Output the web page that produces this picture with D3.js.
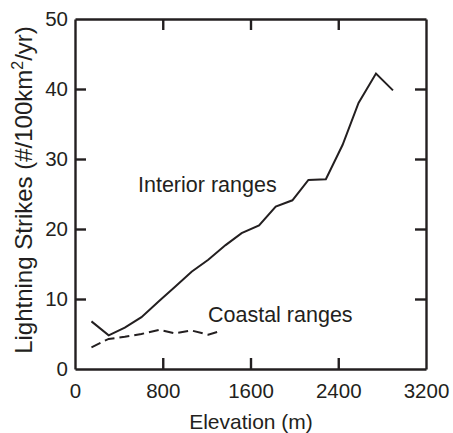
<!DOCTYPE html>
<html><head><meta charset="utf-8">
<script src="https://cdn.jsdelivr.net/npm/d3@7"></script>
<style>body{margin:0;background:#fff}svg{display:block}text{font-family:"Liberation Sans",Arial,sans-serif;fill:#231f20}</style>
</head><body><svg id="c" width="453" height="433"></svg>
<script>
const interiorElev = [150,307,454,606,767,910,1063,1215,1373,1519,1678,1830,1982,2128,2287,2439,2585,2744,2899];
const interiorStrikes = [6.8,4.8,5.9,7.4,9.7,11.7,13.9,15.6,17.7,19.4,20.5,23.2,24.1,27.0,27.1,32.0,38.0,42.2,39.8];
const coastalElev = [150,307,454,606,767,910,1063,1215,1322];
const coastalStrikes = [3.1,4.3,4.6,5.0,5.6,5.1,5.5,4.9,5.4];
const xTicks = [0,800,1600,2400,3200];
const yTicks = [0,10,20,30,40,50];

const svg = d3.select("#c");
const L=75, R=426, T=19, B=369;
const x = d3.scaleLinear().domain([0,3200]).range([L,R]);
const y = d3.scaleLinear().domain([0,50]).range([B,T]);
const col="#231f20";
const tl=11;
const fmt=d3.format("d");

function styleAxis(g, showLabels){
  g.selectAll(".domain").attr("stroke",col).attr("stroke-width",2.4);
  g.selectAll(".tick line").attr("stroke",col).attr("stroke-width",2.4);
  g.selectAll(".tick text").attr("font-size",20.5).attr("fill",col)
    .attr("font-family","'Liberation Sans',Arial,sans-serif");
  if(!showLabels) g.selectAll(".tick text").remove();
}
// bottom
svg.append("g").attr("transform",`translate(0,${B})`)
  .call(d3.axisBottom(x).tickValues(xTicks).tickFormat(fmt).tickSizeInner(-tl).tickSizeOuter(0).tickPadding(14))
  .call(g=>styleAxis(g,true))
  .call(g=>g.selectAll(".tick line").filter(d=>d===0||d===3200).remove());
// top
svg.append("g").attr("transform",`translate(0,${T})`)
  .call(d3.axisTop(x).tickValues(xTicks).tickSizeInner(-tl).tickSizeOuter(0))
  .call(g=>styleAxis(g,false))
  .call(g=>g.selectAll(".tick line").filter(d=>d===0||d===3200).remove());
// left
svg.append("g").attr("transform",`translate(${L},0)`)
  .call(d3.axisLeft(y).tickValues(yTicks).tickFormat(fmt).tickSizeInner(-tl).tickSizeOuter(0).tickPadding(7))
  .call(g=>styleAxis(g,true))
  .call(g=>g.selectAll(".tick line").filter(d=>d===0||d===50).remove());
// right
svg.append("g").attr("transform",`translate(${R},0)`)
  .call(d3.axisRight(y).tickValues(yTicks).tickSizeInner(-tl).tickSizeOuter(0))
  .call(g=>styleAxis(g,false))
  .call(g=>g.selectAll(".tick line").filter(d=>d===0||d===50).remove());

// titles
svg.append("text").attr("x",251).attr("y",429).attr("text-anchor","middle").attr("font-size",21).text("Elevation (m)");
const yt=svg.append("text").attr("transform","translate(32,190) rotate(-90)").attr("text-anchor","middle").attr("font-size",24);
yt.append("tspan").text("Lightning Strikes (#/100km");
yt.append("tspan").attr("font-size",16).attr("dy",-9).text("2");
yt.append("tspan").attr("dy",9).text("/yr)");

// lines
const line=d3.line().x(d=>x(d[0])).y(d=>y(d[1]));
svg.append("path").datum(d3.zip(interiorElev,interiorStrikes)).attr("d",line)
  .attr("fill","none").attr("stroke",col).attr("stroke-width",2);
svg.append("path").datum(d3.zip(coastalElev,coastalStrikes)).attr("d",line)
  .attr("fill","none").attr("stroke",col).attr("stroke-width",2).attr("stroke-dasharray","10,5");

svg.append("text").attr("x",138).attr("y",192).attr("font-size",21.5).text("Interior ranges");
svg.append("text").attr("x",208).attr("y",322).attr("font-size",21.5).text("Coastal ranges");
</script></body></html>
